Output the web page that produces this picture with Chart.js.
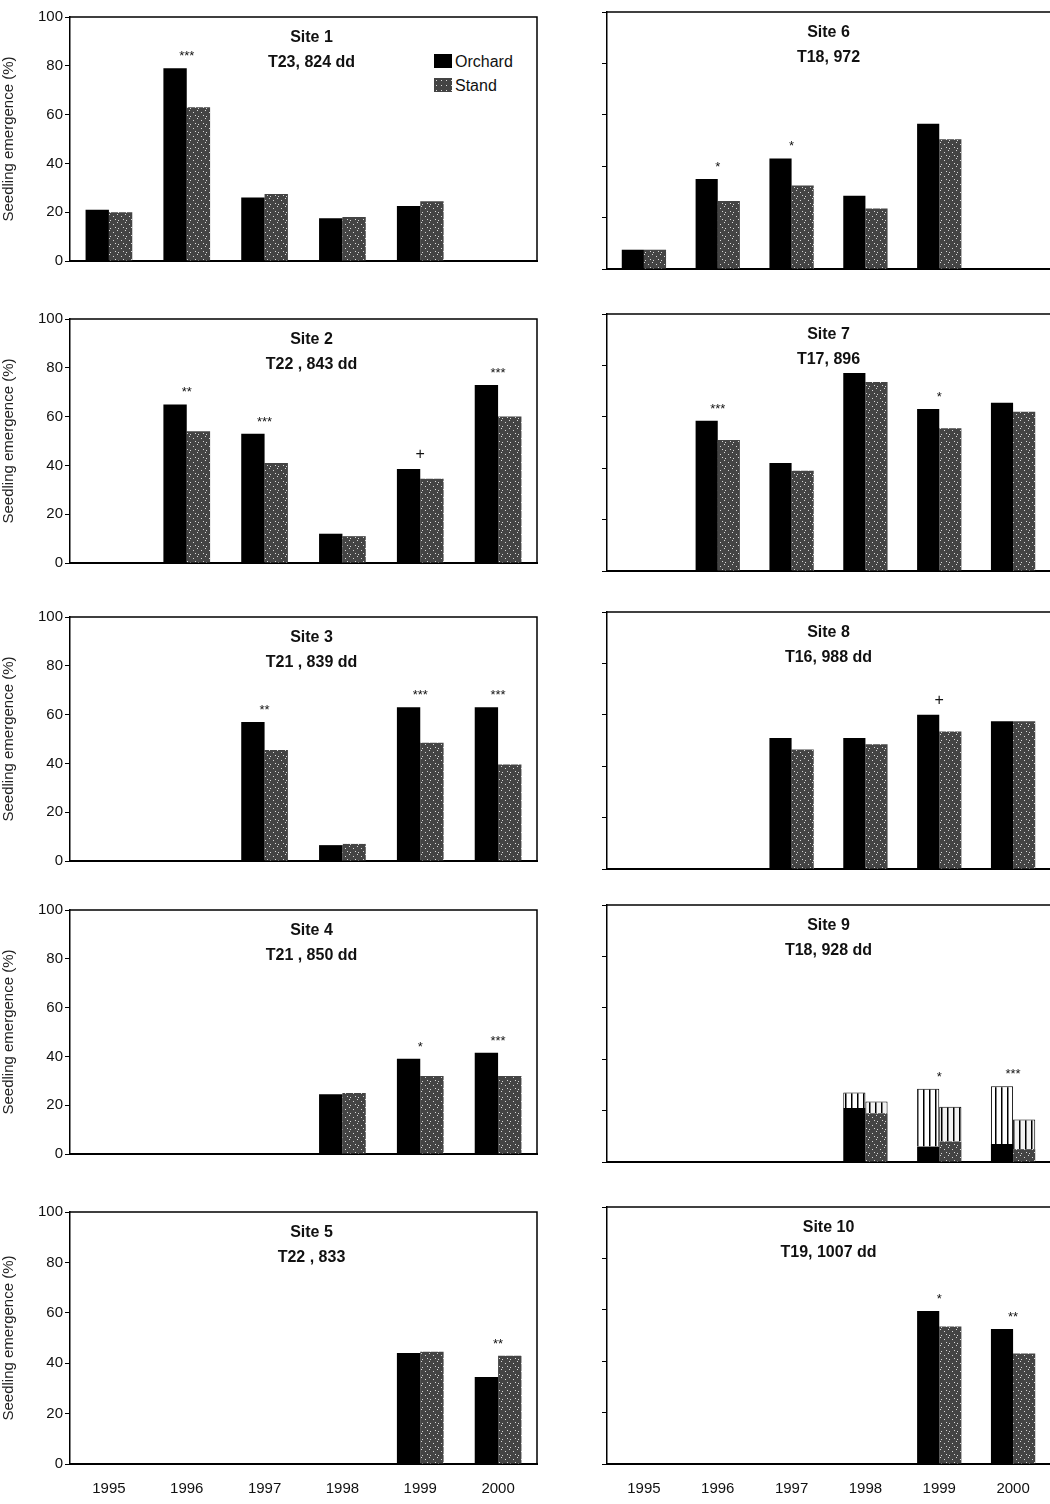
<!DOCTYPE html>
<html><head><meta charset="utf-8">
<script src="https://cdn.jsdelivr.net/npm/chart.js@4"></script>
<style>
  body { margin:0; background:#fff; width:1050px; height:1504px; position:relative; overflow:hidden;
         font-family:"Liberation Sans", Arial, sans-serif; }
  .panel { position:absolute; }
  .legend { position:absolute; font-size:16px; color:#111; line-height:24px; }
  .legend i { display:inline-block; width:18px; height:14px; margin-right:3px; vertical-align:-1px; }
</style></head>
<body>
<div class="legend" style="left:434px;top:50px">
  <div><i style="background:#000"></i>Orchard</div>
  <div><i id="lgStand" style="background:#444"></i>Stand</div>
</div>
<script>
// ── Data ────────────────────────────────────────────
const years = ["1995", "1996", "1997", "1998", "1999", "2000"];
const yTicks = [0, 20, 40, 60, 80, 100];

const siteNames  = ["Site 1", "Site 2", "Site 3", "Site 4", "Site 5", "Site 6", "Site 7", "Site 8", "Site 9", "Site 10"];
const siteInfo   = ["T23, 824 dd", "T22 , 843 dd", "T21 , 839 dd", "T21 , 850 dd", "T22 , 833",
                    "T18, 972", "T17, 896", "T16, 988 dd", "T18, 928 dd", "T19, 1007 dd"];

const orchard = [
  [21, 79, 26, 17.5, 22.5, null],
  [null, 65, 53, 12, 38.5, 73],
  [null, null, 57, 6.5, 63, 63],
  [null, null, null, 24.5, 39, 41.5],
  [null, null, null, null, 44, 34.5],
  [7.5, 35, 43, 28.5, 56.5, null],
  [null, 58.5, 42, 77, 63, 65.5],
  [null, null, 51, 51, 60, 57.5],
  [null, null, null, 21, 6, 7],
  [null, null, null, null, 59.5, 52.5],
];
const stand = [
  [20, 63, 27.5, 18, 24.5, null],
  [null, 54, 41, 11, 34.5, 60],
  [null, null, 45.5, 7, 48.5, 39.5],
  [null, null, null, 25, 32, 32],
  [null, null, null, null, 44.5, 43],
  [7.5, 26.5, 32.5, 23.5, 50.5, null],
  [null, 51, 39, 73.5, 55.5, 62],
  [null, null, 46.5, 48.5, 53.5, 57.5],
  [null, null, null, 19, 8, 5],
  [null, null, null, null, 53.5, 43],
];
// Site 9: hatched upper part (added on top of the solid part)
const orchardTop9 = [null, null, null, 6, 22.5, 22.5];
const standTop9   = [null, null, null, 4.5, 13.5, 11.5];

const signif = [
  ["", "***", "", "", "", ""],
  ["", "**", "***", "", "+", "***"],
  ["", "", "**", "", "***", "***"],
  ["", "", "", "", "*", "***"],
  ["", "", "", "", "", "**"],
  ["", "*", "*", "", "", ""],
  ["", "***", "", "", "*", ""],
  ["", "", "", "", "+", ""],
  ["", "", "", "", "*", "***"],
  ["", "", "", "", "*", "**"],
];

// ── Layout ──────────────────────────────────────────
const rowTops = [12, 314, 612, 905, 1207];
const plotH = 257;

// ── Patterns ────────────────────────────────────────
function dotPattern() {
  const c = document.createElement("canvas");
  c.width = 8; c.height = 8;
  const g = c.getContext("2d");
  g.fillStyle = "#444"; g.fillRect(0, 0, 8, 8);
  g.fillStyle = "#d8d8d8";
  g.fillRect(1, 2, 1, 1); g.fillRect(5, 0, 1, 1); g.fillRect(3, 5, 1, 1); g.fillRect(6, 6, 1, 1);
  return g.createPattern(c, "repeat");
}
function hatchPattern(bg) {
  const c = document.createElement("canvas");
  c.width = 6; c.height = 6;
  const g = c.getContext("2d");
  g.fillStyle = bg; g.fillRect(0, 0, 6, 6);
  g.fillStyle = "#000"; g.fillRect(0, 0, 1.5, 6);
  return g.createPattern(c, "repeat");
}
const standFill = dotPattern();
document.getElementById("lgStand").style.background =
  "radial-gradient(#ddd 0.8px, #444 1px) 0 0/5px 5px";

// ── Plugins ─────────────────────────────────────────
const decor = {
  id: "decor",
  afterDatasetsDraw(chart, args, opts) {
    const { ctx, chartArea: a } = chart;
    ctx.save();
    ctx.strokeStyle = "#000"; ctx.lineWidth = 1.5;
    ctx.beginPath();
    ctx.moveTo(a.left, a.top); ctx.lineTo(a.right, a.top);
    if (opts.box) ctx.lineTo(a.right, a.bottom);
    ctx.stroke();
    // title
    ctx.fillStyle = "#111"; ctx.textAlign = "center";
    ctx.font = "bold 16px 'Liberation Sans', Arial, sans-serif";
    const cx = (a.left + a.right) / 2 + (opts.box ? 8 : 0);
    ctx.fillText(opts.name, cx, a.top + 25);
    ctx.fillText(opts.info, cx, a.top + 50);
    // significance marks
    const x = chart.scales.x, y = chart.scales.y;
    opts.marks.forEach((m, i) => {
      if (!m) return;
      let top = 0;
      chart.data.datasets.forEach(ds => { top = Math.max(top, ds.total ? ds.total[i] : (ds.data[i] || 0)); });
      const py = y.getPixelForValue(top) - (m === "+" ? 10 : 8);
      ctx.font = (m === "+" ? "16px" : "13px") + " 'Liberation Sans', Arial, sans-serif";
      ctx.fillText(m, x.getPixelForValue(i), py);
    });
    ctx.restore();
  }
};

// ── Build panels ────────────────────────────────────
function makePanel(s) {
  const right = s >= 5, row = s % 5, bottom = row === 4;
  const div = document.createElement("div");
  div.className = "panel";
  const left = right ? 599 : 0;
  const yW = right ? 8 : 70;
  const xH = bottom ? 34 : 3;
  const w = right ? 451 : 540;
  div.style.left = left + "px";
  div.style.top = (rowTops[row] - 6) + "px";
  div.style.width = w + "px";
  div.style.height = (plotH + xH + 6) + "px";
  const cv = document.createElement("canvas");
  div.appendChild(cv);
  document.body.appendChild(div);

  let datasets;
  if (s === 8) {
    const tot = (a, b) => a.map((v, i) => v == null ? null : v + b[i]);
    datasets = [
      { data: orchard[s], backgroundColor: "#000", stack: "o", total: tot(orchard[s], orchardTop9) },
      { data: orchardTop9, backgroundColor: hatchPattern("#fff"), borderColor: "#000", borderWidth: 1, stack: "o" },
      { data: stand[s], backgroundColor: standFill, stack: "s", total: tot(stand[s], standTop9) },
      { data: standTop9, backgroundColor: hatchPattern("#f2f2f2"), borderColor: "#000", borderWidth: 1, stack: "s" },
    ];
  } else {
    datasets = [
      { data: orchard[s], backgroundColor: "#000" },
      { data: stand[s], backgroundColor: standFill },
    ];
  }

  new Chart(cv, {
    type: "bar",
    data: { labels: years, datasets },
    plugins: [decor],
    options: {
      responsive: true, maintainAspectRatio: false, animation: false,
      layout: { padding: { top: 6, right: right ? 0 : 3, left: 0, bottom: 0 } },
      datasets: { bar: { barPercentage: 1.0, categoryPercentage: 0.6 } },
      plugins: {
        legend: { display: false }, tooltip: { enabled: false },
        decor: { box: !right, name: siteNames[s], info: siteInfo[s], marks: signif[s] },
      },
      scales: {
        x: {
          stacked: s === 8,
          grid: { display: false },
          border: { color: "#000", width: 2 },
          ticks: { display: bottom, color: "#111", padding: 8,
                   font: { size: 15, family: "'Liberation Sans', Arial, sans-serif" } },
          afterFit: sc => { sc.height = xH; },
        },
        y: {
          stacked: s === 8,
          min: 0, max: 100,
          afterBuildTicks: sc => { sc.ticks = yTicks.map(v => ({ value: v })); },
          grid: { drawOnChartArea: false, tickLength: 5, color: "#000" },
          border: { color: "#000", width: 1.5 },
          ticks: { display: !right, color: "#111", padding: 2,
                   font: { size: 15, family: "'Liberation Sans', Arial, sans-serif" } },
          title: { display: !right, text: "Seedling emergence (%)", color: "#222", padding: 0,
                   font: { size: 15, family: "'Liberation Sans', Arial, sans-serif" } },
          afterFit: sc => { sc.width = yW; },
        },
      },
    },
  });
}

for (let s = 0; s < 10; s++) makePanel(s);
</script>
</body></html>
